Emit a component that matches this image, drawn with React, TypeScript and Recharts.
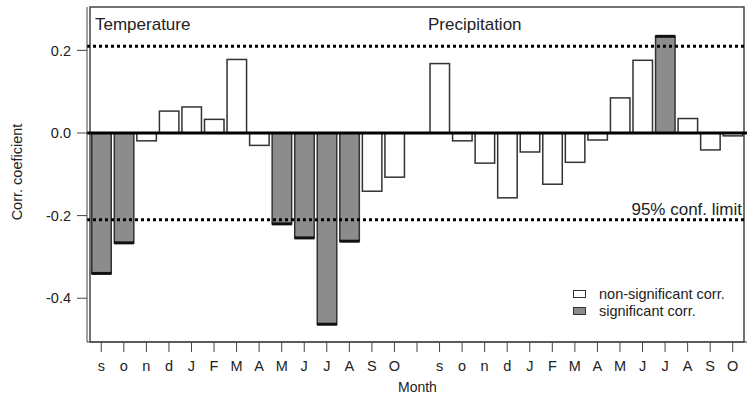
import React from 'react';
import { BarChart, Bar, XAxis, YAxis, ReferenceLine, ReferenceArea, Legend } from 'recharts';

const months = ['s', 'o', 'n', 'd', 'J', 'F', 'M', 'A', 'M', 'J', 'J', 'A', 'S', 'O'];
const temperature = [-0.34, -0.266, -0.019, 0.053, 0.063, 0.033, 0.178, -0.03, -0.22, -0.254, -0.463, -0.262, -0.141, -0.107];
const precipitation = [0.168, -0.019, -0.073, -0.157, -0.046, -0.124, -0.071, -0.017, 0.085, 0.176, 0.234, 0.035, -0.041, -0.007];
const confLimit = 0.21;
const yTicks = [-0.4, -0.2, 0, 0.2];
const yDomain = [-0.506, 0.305];

const FONT = '"Liberation Sans", Arial, sans-serif';
const GRAY = '#8c8c8c';
const INK = '#222';

type Row = { month: string; nonsig: number | null; sig: number | null };

const toRow = (month: string, v: number): Row => {
  const isSig = Math.abs(v) > confLimit;
  return { month, nonsig: isSig ? null : v, sig: isSig ? v : null };
};

// temperature block, one empty slot, precipitation block
const data: Row[] = [
  ...months.map((m, i) => toRow(m, temperature[i])),
  { month: '', nonsig: null, sig: null },
  ...months.map((m, i) => toRow(m, precipitation[i])),
];

const renderBar = (p: any, sig: boolean) => {
  const { x, y, width, height, payload } = p;
  const v = sig ? payload.sig : payload.nonsig;
  if (v == null || !height) return <g />;
  const top = Math.min(y, y + height);
  const h = Math.abs(height);
  const edgeY = v < 0 ? top + h : top;
  return (
    <g>
      <rect x={x + 0.75} y={top} width={width - 1.5} height={h} fill={sig ? GRAY : '#fff'} stroke="#333" strokeWidth={1.5} />
      {sig && <line x1={x + 0.5} x2={x + width - 0.5} y1={edgeY} y2={edgeY} stroke="#111" strokeWidth={3} />}
    </g>
  );
};

const LegendBox = (props: any) => {
  const items = props.payload || [];
  return (
    <div style={{ fontFamily: FONT, fontSize: 14.5, color: INK }}>
      {items.map((it: any) => (
        <div key={it.value} style={{ display: 'flex', alignItems: 'center', height: 17 }}>
          <span style={{ display: 'inline-block', width: 11, height: 6, border: '1.5px solid #333', background: it.color, marginRight: 13 }} />
          <span>{it.value}</span>
        </div>
      ))}
    </div>
  );
};

const txt: React.CSSProperties = { position: 'absolute', fontFamily: FONT, color: INK, lineHeight: 1, whiteSpace: 'nowrap' };

const App: React.FC = () => {
  return (
    <div style={{ position: 'absolute', left: 0, top: 0, width: 749, height: 395, background: '#fff' }}>
      <BarChart width={749} height={395} data={data} margin={{ top: 7, right: 2, bottom: 13, left: 0 }} barCategoryGap={1}>
        <XAxis
          dataKey="month"
          interval={0}
          height={40}
          padding={{ left: 3, right: 3 }}
          tickSize={10}
          tickMargin={9}
          stroke="#444"
          tick={{ fontFamily: FONT, fontSize: 14.5, fill: INK }}
        />
        <YAxis
          type="number"
          domain={yDomain}
          ticks={yTicks}
          width={87}
          tickSize={10}
          tickMargin={6}
          stroke="#444"
          tickFormatter={(v: number) => v.toFixed(1)}
          tick={{ fontFamily: FONT, fontSize: 14.5, fill: INK }}
        />
        <Bar dataKey="nonsig" name="non-significant corr." stackId="a" fill="#ffffff" isAnimationActive={false} shape={(p: any) => renderBar(p, false)} />
        <Bar dataKey="sig" name="significant corr." stackId="a" fill={GRAY} isAnimationActive={false} shape={(p: any) => renderBar(p, true)} />
        <ReferenceLine y={0} stroke="#000" strokeWidth={3} />
        <ReferenceLine y={confLimit} stroke="#000" strokeWidth={3} strokeDasharray="3 3" />
        <ReferenceLine
          y={-confLimit}
          stroke="#000"
          strokeWidth={3}
          strokeDasharray="3 3"
          label={{ value: '95% conf. limit', position: 'insideBottomRight', offset: 5, fontFamily: FONT, fontSize: 17, fill: INK }}
        />
        <ReferenceArea y1={yDomain[0]} y2={yDomain[1]} fill="none" stroke="#444" strokeWidth={1.5} />
        <Legend
          layout="vertical"
          align="center"
          verticalAlign="middle"
          content={<LegendBox />}
          wrapperStyle={{ left: 573, top: 285, width: 170 }}
        />
      </BarChart>
      <div style={{ ...txt, left: 95, top: 16, fontSize: 17 }}>Temperature</div>
      <div style={{ ...txt, left: 428, top: 16, fontSize: 17 }}>Precipitation</div>
      <div style={{ ...txt, left: 398, top: 380, fontSize: 14 }}>Month</div>
      <div style={{ ...txt, left: 17, top: 172, fontSize: 14.5, transform: 'translate(-50%, -50%) rotate(-90deg)' }}>Corr. coeficient</div>
    </div>
  );
};

export default App;
